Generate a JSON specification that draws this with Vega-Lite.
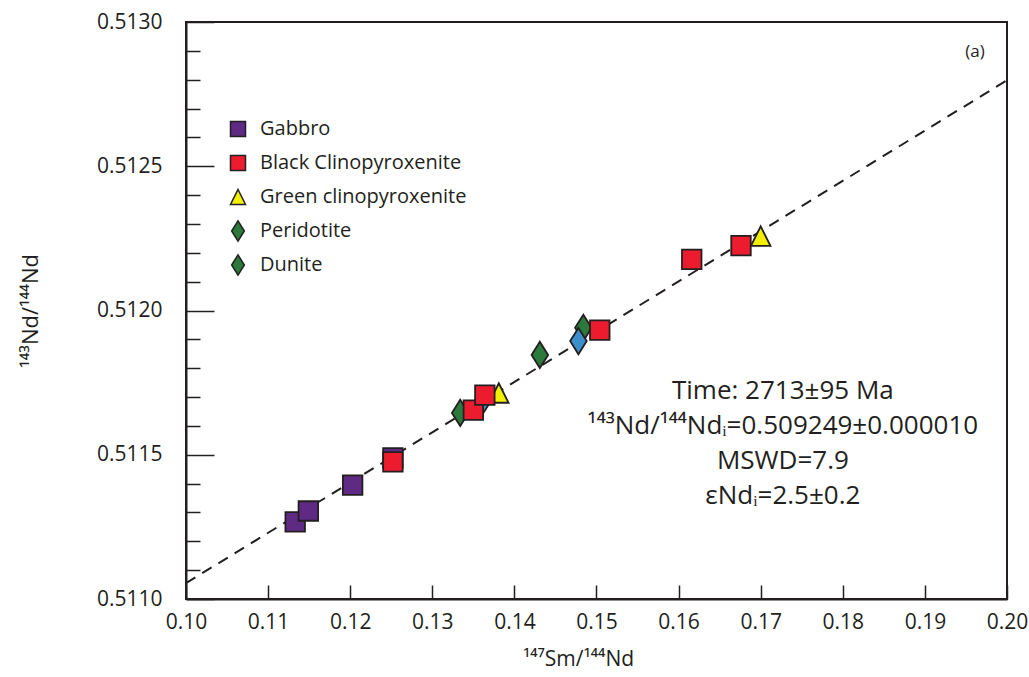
{
  "$schema": "https://vega.github.io/schema/vega-lite/v6.json",
  "width": 821,
  "height": 577,
  "autosize": "none",
  "padding": {"left": 186, "top": 22, "right": 22, "bottom": 78},
  "background": "white",
  "config": {
    "font": "Open Sans",
    "view": {"stroke": "#231f20", "strokeWidth": 2},
    "axis": {
      "domainColor": "#231f20", "domainWidth": 2,
      "tickColor": "#231f20", "tickWidth": 1.5,
      "labelColor": "#231f20", "labelFont": "Open Sans", "labelFontSize": 21,
      "labelFlush": false, "labelOverlap": false,
      "titleColor": "#231f20", "titleFont": "Open Sans", "titleFontWeight": "normal",
      "grid": false
    }
  },
  "datasets": {
    "samples": [
      {"sm": 0.1133, "nd": 0.511267, "rock": "Gabbro"},
      {"sm": 0.1149, "nd": 0.511305, "rock": "Gabbro"},
      {"sm": 0.1203, "nd": 0.511395, "rock": "Gabbro"},
      {"sm": 0.1252, "nd": 0.511489, "rock": "Gabbro"},
      {"sm": 0.1334, "nd": 0.511645, "rock": "Peridotite"},
      {"sm": 0.1431, "nd": 0.511846, "rock": "Dunite"},
      {"sm": 0.1484, "nd": 0.511940, "rock": "Peridotite"},
      {"sm": 0.1359, "nd": 0.511676, "rock": "Other"},
      {"sm": 0.1478, "nd": 0.511894, "rock": "Other"},
      {"sm": 0.1381, "nd": 0.511714, "rock": "Green clinopyroxenite"},
      {"sm": 0.1252, "nd": 0.511475, "rock": "Black Clinopyroxenite"},
      {"sm": 0.1350, "nd": 0.511655, "rock": "Black Clinopyroxenite"},
      {"sm": 0.1364, "nd": 0.511707, "rock": "Black Clinopyroxenite"},
      {"sm": 0.1504, "nd": 0.511932, "rock": "Black Clinopyroxenite"},
      {"sm": 0.1616, "nd": 0.512177, "rock": "Black Clinopyroxenite"},
      {"sm": 0.1676, "nd": 0.512225, "rock": "Black Clinopyroxenite"},
      {"sm": 0.1700, "nd": 0.512258, "rock": "Green clinopyroxenite"}
    ],
    "isochron": [
      {"sm": 0.10, "nd": 0.511055},
      {"sm": 0.20, "nd": 0.512798}
    ],
    "stats": [
      {"panel": "(a)"}
    ]
  },
  "layer": [
    {
      "data": {"name": "isochron"},
      "mark": {"type": "line", "color": "#231f20", "strokeWidth": 2, "strokeDash": [11, 8]},
      "encoding": {
        "x": {"field": "sm", "type": "quantitative",
          "scale": {"domain": [0.10, 0.20], "nice": false, "zero": false},
          "axis": {
            "values": [0.10, 0.11, 0.12, 0.13, 0.14, 0.15, 0.16, 0.17, 0.18, 0.19, 0.20],
            "tickCount": 30,
            "format": ".2f", "tickSize": -14, "labelPadding": 26,
            "title": "¹⁴⁷Sm/¹⁴⁴Nd", "titleFontSize": 21, "titlePadding": 16, "titleX": 392
          }},
        "y": {"field": "nd", "type": "quantitative",
          "scale": {"domain": [0.5110, 0.5130], "nice": false, "zero": false},
          "axis": {
            "values": [0.5110, 0.5111, 0.5112, 0.5113, 0.5114, 0.5115, 0.5116, 0.5117, 0.5118, 0.5119, 0.5120, 0.5121, 0.5122, 0.5123, 0.5124, 0.5125, 0.5126, 0.5127, 0.5128, 0.5129, 0.5130],
            "tickCount": 30,
            "labelExpr": "abs(round(datum.value*10000) % 5) == 0 ? format(datum.value, '.4f') : ''",
            "tickSize": {"condition": {"test": "abs(round(datum.value*10000) % 5) == 0", "value": -28}, "value": -14},
            "labelPadding": 52,
            "title": "¹⁴³Nd/¹⁴⁴Nd", "titleFontSize": 22, "titlePadding": 54
          }}
      }
    },
    {
      "data": {"name": "samples"},
      "mark": {"type": "point", "filled": true, "opacity": 1, "stroke": "#231f20", "strokeWidth": 1.8, "size": 380},
      "encoding": {
        "x": {"field": "sm", "type": "quantitative"},
        "y": {"field": "nd", "type": "quantitative"},
        "color": {"field": "rock", "type": "nominal",
          "scale": {
            "domain": ["Gabbro", "Black Clinopyroxenite", "Green clinopyroxenite", "Peridotite", "Dunite", "Other"],
            "range": ["#5f2a84", "#ec1c2e", "#f2ef00", "#2b7a3b", "#2b7a3b", "#3d8fc9"]
          },
          "legend": {
            "values": ["Gabbro", "Black Clinopyroxenite", "Green clinopyroxenite", "Peridotite", "Dunite"],
            "title": null, "orient": "none", "legendX": 42, "legendY": 97,
            "labelFont": "Open Sans", "labelFontSize": 20, "labelColor": "#231f20", "labelOffset": 12,
            "labelLimit": 400,
            "symbolSize": 225, "symbolStrokeColor": "#231f20", "symbolStrokeWidth": 1.5,
            "gridAlign": "all", "rowPadding": 6
          }},
        "shape": {"field": "rock", "type": "nominal",
          "scale": {
            "domain": ["Gabbro", "Black Clinopyroxenite", "Green clinopyroxenite", "Peridotite", "Dunite", "Other"],
            "range": ["square", "square", "M0,-1L1,1L-1,1Z", "M0,-1.35L0.85,0L0,1.35L-0.85,0Z", "M0,-1.35L0.85,0L0,1.35L-0.85,0Z", "M0,-1.35L0.85,0L0,1.35L-0.85,0Z"]
          }}
      }
    },
    {
      "data": {"name": "stats"},
      "mark": {"type": "text", "font": "Open Sans", "fontSize": 26, "color": "#231f20", "align": "center", "baseline": "middle", "lineHeight": 35,
        "text": ["Time: 2713±95 Ma", "¹⁴³Nd/¹⁴⁴Ndᵢ=0.509249±0.000010", "MSWD=7.9", "εNdᵢ=2.5±0.2"]},
      "encoding": {
        "x": {"datum": 0.1727, "type": "quantitative"},
        "y": {"datum": 0.511721, "type": "quantitative"}
      }
    },
    {
      "data": {"name": "stats"},
      "mark": {"type": "text", "font": "Open Sans", "fontSize": 17, "color": "#231f20", "align": "center", "baseline": "middle"},
      "encoding": {
        "text": {"field": "panel", "type": "nominal"},
        "x": {"datum": 0.1961, "type": "quantitative"},
        "y": {"datum": 0.512896, "type": "quantitative"}
      }
    }
  ]
}
